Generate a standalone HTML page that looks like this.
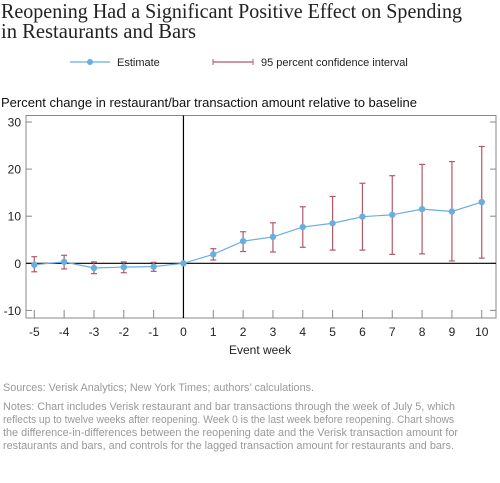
<!DOCTYPE html>
<html><head><meta charset="utf-8"><style>body{margin:0;background:#fff}svg{display:block}text{font-family:"Liberation Sans",sans-serif}</style></head>
<body>
<svg id="c" width="500" height="483" viewBox="0 0 500 483">
<text x="1" y="18" style="font-family:'Liberation Serif',serif" font-size="21" fill="#222" textLength="461" lengthAdjust="spacingAndGlyphs">Reopening Had a Significant Positive Effect on Spending</text>
<text x="1" y="38" style="font-family:'Liberation Serif',serif" font-size="21" fill="#222" textLength="195" lengthAdjust="spacingAndGlyphs">in Restaurants and Bars</text>
<g>
<line x1="70" y1="62" x2="110" y2="62" stroke="#6aaee0" stroke-width="1.2"/>
<circle cx="90" cy="62" r="3" fill="#6aaee0"/>
<text x="117" y="66" font-size="11" fill="#222">Estimate</text>
<line x1="213" y1="62" x2="253" y2="62" stroke="#b05a66" stroke-width="1.2"/>
<line x1="213" y1="59" x2="213" y2="65" stroke="#b05a66"/>
<line x1="253" y1="59" x2="253" y2="65" stroke="#b05a66"/>
<text x="261" y="66" font-size="11" fill="#222">95 percent confidence interval</text>
</g>
<text x="1" y="107" font-size="13" fill="#111" textLength="416">Percent change in restaurant/bar transaction amount relative to baseline</text>
<rect x="26" y="115.5" width="470" height="202.5" fill="none" stroke="#888"/>
<g id="ax"></g>
<g id="marks"></g>
<text x="260" y="354" font-size="12" fill="#222" text-anchor="middle">Event week</text>
<g fill="#999" font-size="11">
<text x="3" y="391" textLength="311" lengthAdjust="spacingAndGlyphs">Sources: Verisk Analytics; New York Times; authors’ calculations.</text>
<text x="3" y="410" textLength="452" lengthAdjust="spacingAndGlyphs">Notes: Chart includes Verisk restaurant and bar transactions through the week of July 5, which</text>
<text x="3" y="423" textLength="451" lengthAdjust="spacingAndGlyphs">reflects up to twelve weeks after reopening. Week 0 is the last week before reopening. Chart shows</text>
<text x="3" y="436" textLength="455" lengthAdjust="spacingAndGlyphs">the difference-in-differences between the reopening date and the Verisk transaction amount for</text>
<text x="3" y="449" textLength="451" lengthAdjust="spacingAndGlyphs">restaurants and bars, and controls for the lagged transaction amount for restaurants and bars.</text>
</g>
</svg>
<script>
const weeks=[-5,-4,-3,-2,-1,0,1,2,3,4,5,6,7,8,9,10];
const estimate=[-0.3,0.3,-1,-0.8,-0.7,0,1.9,4.7,5.6,7.7,8.5,9.9,10.3,11.5,11,13];
const lower=[-1.8,-1.2,-2.2,-2,-1.7,null,0.7,2.5,2.4,3.4,2.8,2.8,1.9,2,0.5,1.1];
const upper=[1.4,1.7,0.3,0.3,0.2,null,3.1,6.7,8.6,12,14.2,17,18.6,21,21.6,24.8];
const yTicks=[30,20,10,0,-10];
const NS="http://www.w3.org/2000/svg";
const X=w=>34.3+(w+5)*29.83;
const Y=v=>263.3-v*4.71;
function mk(t,a,p){const e=document.createElementNS(NS,t);for(const k in a)e.setAttribute(k,a[k]);p.appendChild(e);return e;}
const ax=document.getElementById('ax'),mg=document.getElementById('marks');
yTicks.forEach(v=>{
 const t=mk('text',{x:21,y:Y(v)+4.5,'font-size':12,fill:'#222','text-anchor':'end'},ax);t.textContent=v;
 
 
 mk('line',{x1:26,x2:32,y1:Y(v),y2:Y(v),stroke:'#888'},ax);
 mk('line',{x1:490,x2:496,y1:Y(v),y2:Y(v),stroke:'#888'},ax);
});
weeks.forEach(w=>{
 const t=mk('text',{x:X(w),y:336,'font-size':12,fill:'#222','text-anchor':'middle'},ax);t.textContent=w;
 
 
 mk('line',{x1:X(w),x2:X(w),y1:310,y2:318,stroke:'#888'},ax);
});
mk('line',{x1:26,x2:496,y1:Y(0),y2:Y(0),stroke:'#000','stroke-width':1.2},ax);
mk('line',{x1:X(0),x2:X(0),y1:115.5,y2:318,stroke:'#000','stroke-width':1.2},ax);
weeks.forEach((w,i)=>{
 if(lower[i]==null)return;
 const g=mk('g',{stroke:'#b05a66','stroke-width':1.2},mg);
 
 
 mk('line',{x1:X(w),x2:X(w),y1:Y(lower[i]),y2:Y(upper[i])},g);
 mk('line',{x1:X(w)-3,x2:X(w)+3,y1:Y(lower[i]),y2:Y(lower[i])},g);
 mk('line',{x1:X(w)-3,x2:X(w)+3,y1:Y(upper[i]),y2:Y(upper[i])},g);
});
const pl=mk('polyline',{points:weeks.map((w,i)=>X(w)+','+Y(estimate[i])).join(' '),fill:'none',stroke:'#6aaee0','stroke-width':1.2},mg);


weeks.forEach((w,i)=>{
 const c=mk('circle',{cx:X(w),cy:Y(estimate[i]),r:3.2,fill:'#6aaee0'},mg);
 
 
});
</script>
</body></html>
